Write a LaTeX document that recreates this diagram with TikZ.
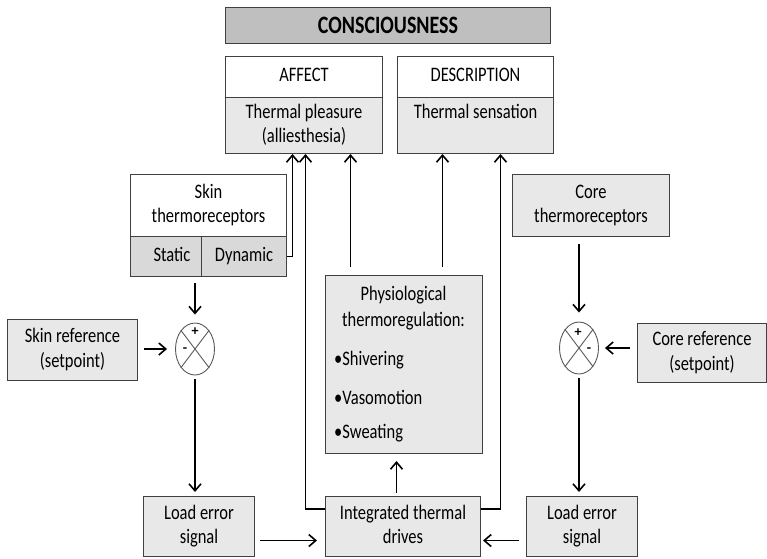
\documentclass[tikz,border=0pt]{standalone}
\usepackage{fontspec}
\setmainfont{Carlito}
\usetikzlibrary{shapes.geometric,arrows.meta,calc}
\newcommand\stt[1]{\scalebox{1}[1.25]{\begin{tabular}{@{}c@{}}#1\end{tabular}}}
\newcommand\stl[1]{\scalebox{1}[1.25]{#1}}
\definecolor{boxgray}{HTML}{E8E8E8}
\definecolor{midgray}{HTML}{D9D9D9}
\definecolor{consgray}{HTML}{BFBFBF}
\definecolor{edgegray}{HTML}{404040}
\begin{document}
\begin{tikzpicture}[x=1pt,y=-1pt,
  font=\fontsize{16.5}{19.5}\selectfont,
  box/.style={draw=edgegray, line width=1pt, fill=boxgray, anchor=north west, inner sep=0pt, align=center},
  wbox/.style={box, fill=white},
  cmp/.style={draw=black!65, line width=0.9pt, ellipse, minimum width=39pt, minimum height=52pt, inner sep=0pt},
  arr/.style={line width=1.6pt, -{Straight Barb[length=7pt,width=12pt]}},
  sign/.style={font=\fontsize{14}{14}\selectfont\bfseries, inner sep=0pt}
]
\useasboundingbox (0,0) rectangle (767,558);
\fill[white] (0,0) rectangle (767,558);

% consciousness
\node[box, fill=consgray, minimum width=325pt, minimum height=36pt, font=\fontsize{20}{22}\selectfont\bfseries] (cons) at (225,7) {\stl{CONSCIOUSNESS}};

% affect / description
\node[wbox, minimum width=157pt, minimum height=41pt] (affT) at (225,56) {\stt{AFFECT}};
\node[box, minimum width=157pt, minimum height=56pt] (affB) at (225,97) {\stt{Thermal pleasure\\(alliesthesia)}};
\node[wbox, minimum width=156pt, minimum height=41pt] (descT) at (397,56) {\stt{DESCRIPTION}};
\node[box, minimum width=156pt, minimum height=56pt] (descB) at (397,97) {\stt{Thermal sensation\\\mbox{}}};

% skin thermoreceptors
\node[wbox, minimum width=156pt, minimum height=62pt] (skinT) at (130,174) {\stt{Skin\\thermoreceptors}};
\node[box, fill=midgray, minimum width=71pt, minimum height=40pt] (static) at (130,236) {\hspace*{12pt}\stt{Static}};
\node[box, fill=midgray, minimum width=85pt, minimum height=40pt] (dynamic) at (201,236) {\stt{Dynamic}};

% skin reference and comparator
\node[box, minimum width=130pt, minimum height=61pt] (skinref) at (7,319) {\stt{Skin reference\\(setpoint)}};
\node[cmp] (cmpL) at (195,349) {};
\draw[black!65, line width=0.9pt] (cmpL.north west) -- (cmpL.south east) (cmpL.north east) -- (cmpL.south west);
\node[sign] (cmpLp) at (195,332) {+};
\node[sign] (cmpLm) at (185,350) {-};

% core thermoreceptors
\node[box, minimum width=157pt, minimum height=62pt] (coreT) at (512,174) {\stt{Core\\thermoreceptors}};
\node[box, minimum width=129pt, minimum height=59pt] (coreref) at (637,323) {\stt{Core reference\\(setpoint)}};
\node[cmp] (cmpR) at (579,348) {};
\draw[black!65, line width=0.9pt] (cmpR.north west) -- (cmpR.south east) (cmpR.north east) -- (cmpR.south west);
\node[sign] (cmpRp) at (578,333) {+};
\node[sign] (cmpRm) at (589,350) {-};

% physiological thermoregulation
\node[box, minimum width=157pt, minimum height=178pt] (phys) at (325,275) {};
\node[inner sep=0pt] (physA) at (403.5,295) {\stl{Physiological}};
\node[inner sep=0pt] (physB) at (403.5,321) {\stl{thermoregulation:}};
\node[inner sep=0pt, anchor=west] (b1) at (334,360) {\stl{•Shivering}};
\node[inner sep=0pt, anchor=west] (b2) at (334,397) {\stl{•Vasomotion}};
\node[inner sep=0pt, anchor=west] (b3) at (334,433) {\stl{•Sweating}};

% bottom row
\node[box, minimum width=111pt, minimum height=60pt] (errL) at (143,496) {\stt{Load error\\signal}};
\node[box, minimum width=155pt, minimum height=60pt] (integ) at (325,496) {\stt{Integrated thermal\\drives}};
\node[box, minimum width=111pt, minimum height=60pt] (errR) at (526,496) {\stt{Load error\\signal}};

% connectors to affect / description
\draw[arr] (dynamic.east) -| ([xshift=-11.5pt]affB.south);
\draw[arr] ([yshift=-13pt]integ.north west) -| ([xshift=1.5pt]affB.south);
\draw[arr] ([yshift=-13pt]integ.north east) -| ([xshift=25pt]descB.south);
\draw[arr, shorten <=8pt] ([xshift=-53.5pt]phys.north) -- ([xshift=-53.5pt]phys.north |- affB.south);
\draw[arr, shorten <=8pt] ([xshift=38.5pt]phys.north) -- ([xshift=38.5pt]phys.north |- descB.south);
\draw[arr, shorten <=3pt, shorten >=7pt] ([xshift=-6.5pt]integ.north) -- ([xshift=-6.5pt]integ.north |- phys.south);

% skin loop
\draw[arr, shorten <=6pt, shorten >=8pt] (cmpL.north |- static.south) -- (cmpL.north);
\draw[arr, shorten <=6pt, shorten >=8pt] (skinref.east |- cmpL.west) -- (cmpL.west);
\draw[arr, shorten <=4pt, shorten >=4pt] (cmpL.south) -- (cmpL.south |- errL.north);
\draw[arr, shorten <=5pt, shorten >=8pt] ([yshift=-14pt]errL.east) -- ([yshift=-14pt]errL.east -| integ.west);

% core loop
\draw[arr, shorten <=7pt, shorten >=9pt] (cmpR.north |- coreT.south) -- (cmpR.north);
\draw[arr, shorten <=7pt, shorten >=6pt] (coreref.west |- cmpR.east) -- (cmpR.east);
\draw[arr, shorten <=4pt, shorten >=4pt] (cmpR.south) -- (cmpR.south |- errR.north);
\draw[arr, shorten <=7pt, shorten >=2pt] ([yshift=-14pt]errR.west) -- ([yshift=-14pt]errR.west -| integ.east);
\end{tikzpicture}
\end{document}
